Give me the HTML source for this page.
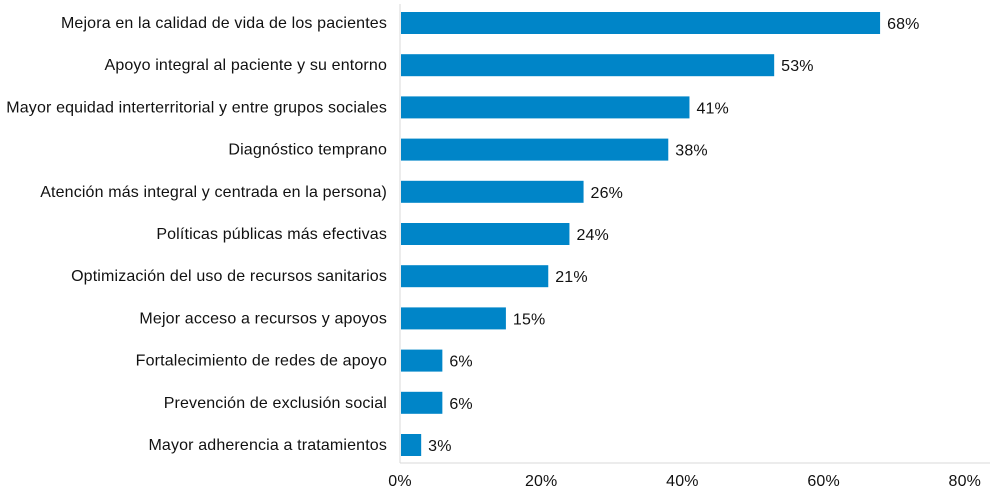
<!DOCTYPE html>
<html><head><meta charset="utf-8"><style>
body{margin:0;background:#fff;width:1000px;height:495px;overflow:hidden;font-family:"Liberation Sans",sans-serif;}
svg text{font-family:"Liberation Sans",sans-serif;font-size:16px;letter-spacing:0.15px;fill:#111;}
</style></head><body>
<svg id="chart" width="1000" height="495" xmlns="http://www.w3.org/2000/svg"></svg>
<script>
const categories=["Mejora en la calidad de vida de los pacientes","Apoyo integral al paciente y su entorno","Mayor equidad interterritorial y entre grupos sociales","Diagnóstico temprano","Atención más integral y centrada en la persona)","Políticas públicas más efectivas","Optimización del uso de recursos sanitarios","Mejor acceso a recursos y apoyos","Fortalecimiento de redes de apoyo","Prevención de exclusión social","Mayor adherencia a tratamientos"];
const values=[68,53,41,38,26,24,21,15,6,6,3];
const ticks=[0,20,40,60,80];
const svg=document.getElementById('chart');
const NS='http://www.w3.org/2000/svg';
const x0=400,k=7.06,top0=23,step=42.2,bh=22;
const xs=v=>x0+v*k, ys=i=>top0+i*step;
function mk(t,a){const e=document.createElementNS(NS,t);for(const n in a)e.setAttribute(n,a[n]);svg.appendChild(e);return e;}
let ax=mk('line',{x1:x0,y1:4,x2:x0,y2:463,stroke:'#d9d9d9','stroke-width':1});


let bx=mk('line',{x1:x0,y1:463,x2:990,y2:463,stroke:'#d9d9d9','stroke-width':1});


categories.forEach((c,i)=>{
  const y=ys(i);
  const r=mk('rect',{x:x0+1,y:y-bh/2,width:xs(values[i])-x0-1,height:bh,fill:'#0085c8'});
  
  
  const l=mk('text',{x:387,y:y+5,'text-anchor':'end'});l.textContent=c;
  
  
  const v=mk('text',{x:xs(values[i])+7,y:y+6});v.textContent=values[i]+'%';
  
  
});
ticks.forEach(t=>{
  const e=mk('text',{x:xs(t),y:486,'text-anchor':'middle'});e.textContent=t+'%';
  
  
});
</script>
</body></html>
